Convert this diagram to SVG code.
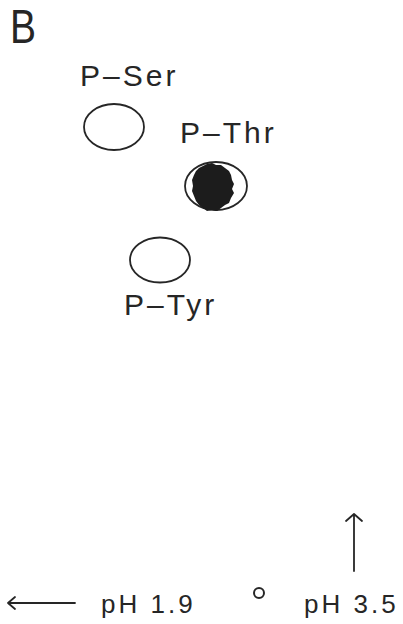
<svg xmlns="http://www.w3.org/2000/svg" width="403" height="624" viewBox="0 0 403 624">
<style>
text{font-family:"Liberation Sans","DejaVu Sans",Arial,sans-serif;fill:#262626}
.lbl{font-size:30px;letter-spacing:3px}
.ax{font-size:26px;letter-spacing:3px}
.spot{fill:none;stroke:#262626;stroke-width:1.8}
.arr{fill:none;stroke:#262626;stroke-width:1.8;stroke-linecap:round;stroke-linejoin:round}
</style>
<rect width="403" height="624" fill="#fff"/>
<text id="panel" x="10" y="43" style="font-size:48px" textLength="26" lengthAdjust="spacingAndGlyphs">B</text>
<g id="pser">
<text class="lbl" x="80" y="86">P–Ser</text>
<ellipse class="spot" cx="114" cy="127" rx="30" ry="23"/>
</g>
<g id="pthr">
<text class="lbl" x="180" y="143">P–Thr</text>
<ellipse class="spot" cx="216" cy="186" rx="31" ry="24"/>
<path fill="#1c1c1c" d="M199,168 L203,166 L207,164 L212,163 L216,165 L221,165 L225,168 L229,171 L231,175 L232,180 L234,184 L232,189 L234,193 L231,198 L229,203 L225,205 L221,208 L217,211 L212,210 L207,211 L203,208 L199,205 L196,201 L194,196 L192,191 L193,186 L192,180 L194,175 L196,171 Z"/>
</g>
<g id="ptyr">
<ellipse class="spot" cx="160" cy="260" rx="30" ry="22.5"/>
<text class="lbl" x="124" y="315">P–Tyr</text>
</g>
<g id="origin">
<circle cx="259" cy="593" r="5" class="spot" style="stroke-width:2"/>
</g>
<g id="connectors">
<path class="arr" d="M75,603 L8,603 M15,597 L8,603 L15,609"/>
<path class="arr" d="M354,571 L354,514 M346,521 L354,514 L362,521"/>
</g>
<text class="ax" x="101" y="613">pH 1.9</text>
<text class="ax" x="304" y="613">pH 3.5</text>
</svg>
